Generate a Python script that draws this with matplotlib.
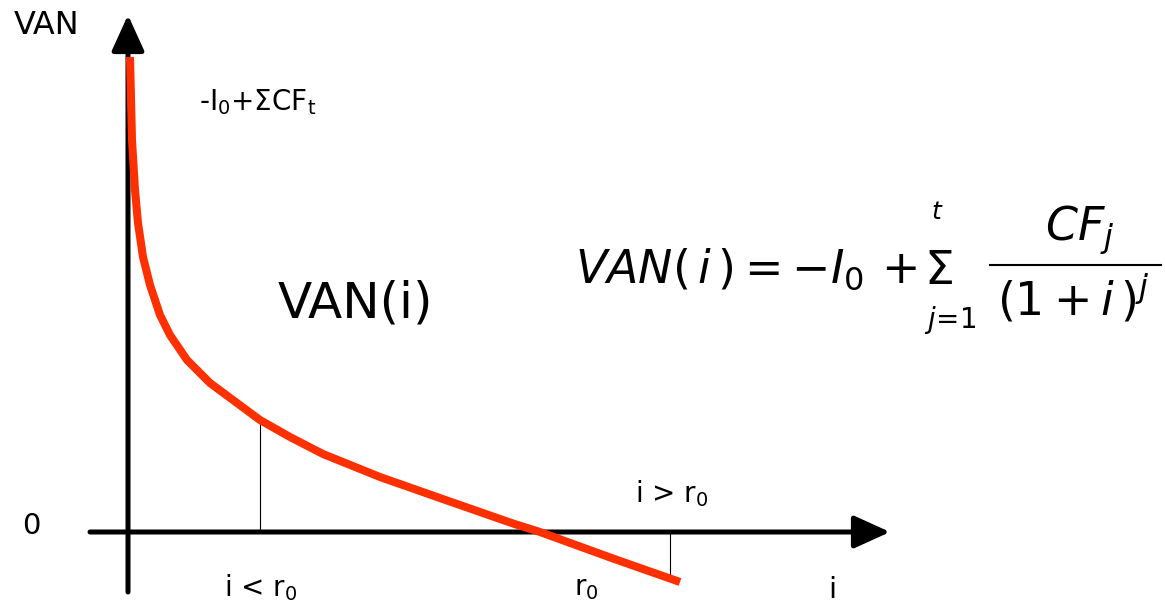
import matplotlib
matplotlib.use("Agg")
import matplotlib.pyplot as plt
import numpy as np

# NPV curve VAN(i): discount rate vs net present value (arbitrary units)
rate = [0.02, 0.04, 0.07, 0.10, 0.15, 0.22, 0.32, 0.42, 0.59, 0.82,
        1.09, 1.32, 1.62, 1.95, 2.52, 3.19, 3.85, 4.12, 4.85, 5.52]
van = [4.75, 3.92, 3.42, 3.09, 2.75, 2.47, 2.17, 1.97, 1.72, 1.49,
       1.29, 1.12, 0.95, 0.78, 0.55, 0.315, 0.085, 0.0, -0.265, -0.50]

i_low = 1.32      # example rate below the IRR
i_high = 5.42     # example rate above the IRR
r0 = 4.12         # internal rate of return (VAN = 0)

fig = plt.figure(figsize=(11.65, 6.13), dpi=100, facecolor="white")
ax = fig.add_axes([0, 0, 1, 1])
ax.set_xlim(-1.28, 10.37)
ax.set_ylim(-0.81, 5.32)
ax.axis("off")

arrow = dict(arrowstyle="-|>,head_length=2.2,head_width=1.0", lw=3.6,
             color="black", mutation_scale=10, shrinkA=0, shrinkB=0)
ax.annotate("", xy=(0, 5.17), xytext=(0, -0.6), arrowprops=arrow, zorder=2)
ax.annotate("", xy=(7.62, 0), xytext=(-0.38, 0), arrowprops=arrow, zorder=2)

ax.plot(rate, van, color="#ff3000", lw=5.8, solid_capstyle="butt",
        solid_joinstyle="round", zorder=3)

# guide lines from the axis to the curve
y_low = np.interp(i_low, rate, van)
y_high = np.interp(i_high, rate, van)
ax.plot([i_low, i_low], [0, y_low], color="black", lw=0.8, zorder=1)
ax.plot([i_high, i_high], [0, y_high], color="black", lw=0.8, zorder=1)

txt = dict(color="black", family="DejaVu Sans")
ax.text(-1.14, 5.07, "VAN", fontsize=23, va="center", ha="left", **txt)
ax.text(-1.06, 0.06, "0", fontsize=21, va="center", ha="left", **txt)
ax.text(0.71, 4.3, r"-I$_0$+ΣCF$_\mathrm{t}$", fontsize=20, va="center", ha="left", **txt)
ax.text(1.5, 2.29, "VAN(i)", fontsize=36, va="center", ha="left", **txt)
ax.text(5.07, 0.38, r"i > r$_0$", fontsize=20, va="center", ha="left", **txt)
ax.text(0.96, -0.56, r"i < r$_0$", fontsize=20, va="center", ha="left", **txt)
ax.text(r0 + 0.46, -0.56, r"r$_0$", fontsize=20, va="center", ha="center", **txt)
ax.text(7.0, -0.58, "i", fontsize=21, va="center", ha="left", **txt)

# NPV formula, laid out piece by piece
ax.text(4.47, 2.49, r"$VAN(\,i\,)=-I_0\,+$", fontsize=33,
        va="baseline", ha="left", color="black")
ax.text(8.1, 2.6, r"$\Sigma$", fontsize=34, va="center", ha="center", color="black")
ax.text(8.09, 3.2, r"$t$", fontsize=18, va="center", ha="center", color="black")
ax.text(8.22, 2.12, r"$j\!=\!1$", fontsize=20, va="center", ha="center", color="black")
ax.plot([8.62, 10.33], [2.67, 2.67], color="black", lw=1.5)
ax.text(9.52, 3.02, r"$CF_j$", fontsize=33, va="center", ha="center", color="black")
ax.text(9.45, 2.34, r"$(1+i\,)^j$", fontsize=33, va="center", ha="center", color="black")

fig.savefig("out.png", dpi=100, facecolor="white")
